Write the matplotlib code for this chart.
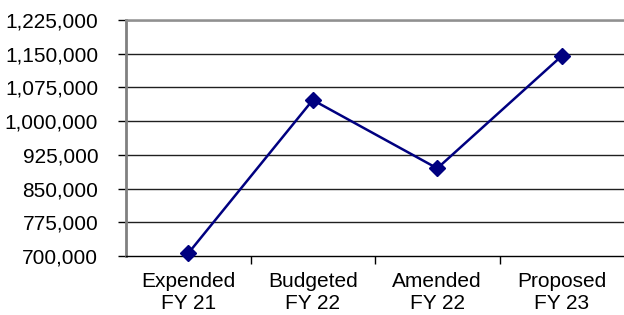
import matplotlib
matplotlib.use("Agg")
import matplotlib.pyplot as plt
import numpy as np
from matplotlib.ticker import FuncFormatter

categories = ["Expended\nFY 21", "Budgeted\nFY 22", "Amended\nFY 22", "Proposed\nFY 23"]
values = [706000, 1047000, 895000, 1145000]
yticks = [700000, 775000, 850000, 925000, 1000000, 1075000, 1150000, 1225000]

plt.rcParams['font.family'] = ['Liberation Sans', 'DejaVu Sans']
fig = plt.figure(figsize=(6.24, 3.15), dpi=100)
ax = fig.add_axes([126/624, 1-256/315, 1-126/624, (256-20)/315])

x = np.arange(len(categories)) + 0.5
ax.plot(x, values, color='#000080', lw=1.8, marker='D', markersize=8.5,
        markerfacecolor='#000080', markeredgecolor='#000080', zorder=3, clip_on=False)

ax.set_xlim(0, len(categories))
ax.set_ylim(yticks[0], yticks[-1])
ax.set_yticks(yticks)
ax.yaxis.set_major_formatter(FuncFormatter(lambda v, p: f"{int(v):,}"))
for yv in yticks[1:]:
    ax.axhline(yv, color='#202020', lw=1.0, zorder=1)

ax.set_xticks(np.arange(1, len(categories)))
ax.set_xticklabels([])
ax.set_xticks(x, minor=True)
ax.set_xticklabels(categories, minor=True, fontsize=15, linespacing=1.22)
ax.tick_params(axis='x', which='minor', length=0, pad=11.5)
ax.tick_params(axis='x', which='major', length=6, width=1, color='black', direction='out')
ax.tick_params(axis='y', labelsize=15, length=6, width=1, color='black', pad=14)

ax.spines['right'].set_visible(False)
ax.spines['top'].set_color('#909090')
ax.spines['top'].set_linewidth(1.8)
ax.spines['left'].set_color('#808080')
ax.spines['left'].set_linewidth(2)
ax.spines['bottom'].set_color('black')
ax.spines['bottom'].set_linewidth(1)

fig.savefig("out.png", dpi=100)
